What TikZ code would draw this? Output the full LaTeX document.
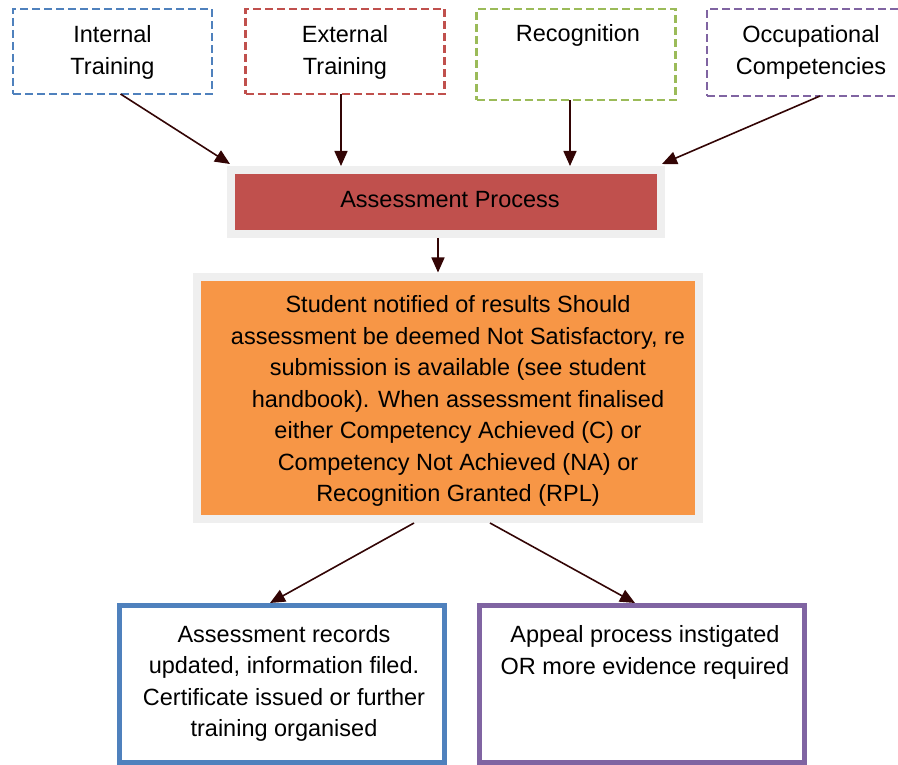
\documentclass[tikz,border=0pt]{standalone}
\usepackage{fontspec}
\setmainfont{Liberation Sans}
\usetikzlibrary{arrows.meta,calc}
\definecolor{cblue}{HTML}{4F81BD}
\definecolor{cred}{HTML}{C0504D}
\definecolor{cgreen}{HTML}{9BBB59}
\definecolor{cpurple}{HTML}{8064A2}
\definecolor{corange}{HTML}{F79646}
\definecolor{cgrey}{HTML}{EFEFEF}
\definecolor{carrow}{HTML}{330505}
\begin{document}
\begin{tikzpicture}[x=1pt,y=-1pt,
  txt/.style={font=\fontsize{23.5}{31.5}\selectfont, align=center, text=black, inner sep=0pt},
  dbox/.style={draw, line width=2.5pt, dash pattern=on 8pt off 4pt, inner sep=0pt, outer sep=0pt, minimum width=199pt, minimum height=85pt},
  gbox/.style={draw=cgrey, line width=8pt, inner sep=0pt},
  sbox/.style={line width=5pt, inner sep=0pt, minimum width=325pt, minimum height=157pt},
  conn/.style={-{Triangle[length=15pt,width=13pt]}, line width=1.6pt, draw=carrow}]
\useasboundingbox (0,0) rectangle (898,765);

% top dashed boxes
\node[dbox, draw=cblue] (int) at (112.5,51.5) {};
\node[txt] (inttxt) at (112.5,52.5) {Internal\\Training};
\node[dbox, draw=cred] (ext) at (345,51.5) {};
\node[txt] (exttxt) at (345,52.5) {External\\Training};
\node[dbox, draw=cgreen, minimum height=91pt] (rec) at (576,54.5) {};
\node[txt] (rectxt) at (578,35) {Recognition};
\node[dbox, draw=cpurple, minimum width=226pt, minimum height=87pt] (occ) at (820,52.5) {};
\node[txt] (occtxt) at (811,52.5) {Occupational\\Competencies};

% assessment process
\node[gbox, fill=cred, minimum width=430pt, minimum height=64pt] (ap) at (446,202) {};
\node[txt] (aptxt) at (450,200) {Assessment Process};

% middle box
\node[gbox, fill=corange, minimum width=502pt, minimum height=242.5pt] (mid) at (448,397.75) {};
\node[txt] (midtxt) at (458,401) {Student notified of results Should\\
assessment be deemed Not Satisfactory, re\\
submission is available (see student\\
handbook). When assessment finalised\\
either Competency Achieved (C) or\\
Competency Not Achieved (NA) or\\
Recognition Granted (RPL)};

% bottom boxes
\node[sbox, draw=cblue] (bl) at (282,684) {};
\node[txt] (bltxt) at (284,683.5) {Assessment records\\
updated, information filed.\\
Certificate issued or further\\
training organised};
\node[sbox, draw=cpurple] (br) at (642,684) {};
\node[txt] (brtxt) at (645,652.5) {Appeal process instigated\\
OR more evidence required};

% connectors
\draw[conn] ([xshift=8pt]int.south) -- ([xshift=3pt,yshift=2pt]ap.north west);
\draw[conn] ([xshift=-4pt]ext.south) -- ([xshift=-4pt]ext.south |- ap.north);
\draw[conn] ([xshift=-6pt]rec.south) -- ([xshift=-6pt]rec.south |- ap.north);
\draw[conn] (occ.south) -- ([xshift=-3pt,yshift=2pt]ap.north east);
\draw[conn] ([xshift=-8pt]ap.south) -- ([xshift=-8pt]ap.south |- mid.north);
\draw[conn] ([xshift=-34pt]mid.south) -- ([xshift=-12pt]bl.north);
\draw[conn] ([xshift=42pt]mid.south) -- ([xshift=-7pt]br.north);
\end{tikzpicture}
\end{document}
